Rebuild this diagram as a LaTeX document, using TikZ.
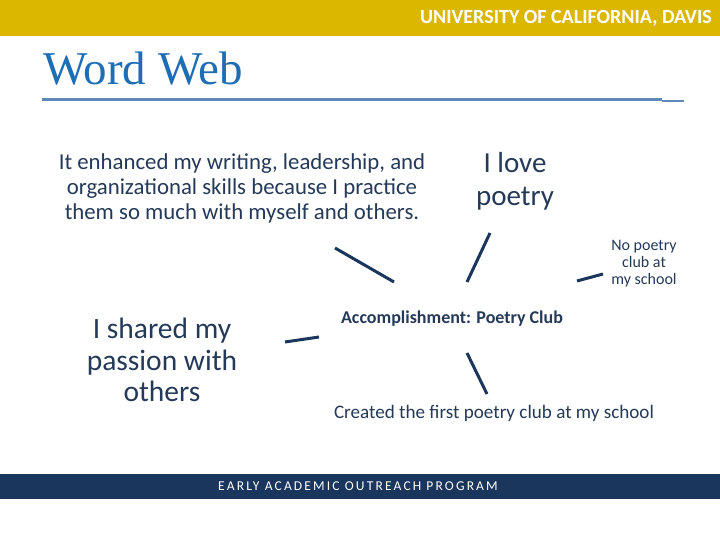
\documentclass[tikz,border=0pt]{standalone}
\usepackage{fontspec}
\setmainfont{Carlito}
\newfontfamily\titlefont{Liberation Serif}
\definecolor{ucgold}{RGB}{220,183,0}
\definecolor{navy}{RGB}{27,54,93}
\definecolor{txt}{RGB}{36,58,88}
\definecolor{titleblue}{RGB}{30,110,180}
\definecolor{rulecol}{RGB}{95,135,185}
\tikzset{
  web/.style={draw=navy, line width=3pt, line cap=butt},
  lbl/.style={text=txt, align=center, inner sep=0pt},
}
\begin{document}
\begin{tikzpicture}[x=1pt,y=-1pt]
\useasboundingbox (0,0) rectangle (720,540);
\fill[white] (0,0) rectangle (720,540);
% top band
\fill[ucgold] (0,0) rectangle (720,36.5);
\node[anchor=east, text=white, inner sep=0pt, font=\fontsize{20}{22}\selectfont\bfseries] (uc) at (712,18.5) {UNIVERSITY OF CALIFORNIA, DAVIS};
% title
\node[anchor=base west, text=titleblue, inner sep=0pt, font=\titlefont\fontsize{47}{52}\selectfont] (title) at (43,85) {Word Web};
\draw[rulecol, line width=3pt] (42,100) -- (662,100);
\draw[rulecol, line width=1.2pt] (662,101) -- (684,101);
% texts
\node[lbl, font=\fontsize{22.8}{25}\selectfont] (enh) at (242,188) {It enhanced my writing, leadership, and\\organizational skills because I practice\\them so much with myself and others.};
\node[lbl, font=\fontsize{29}{33}\selectfont] (love) at (515,181) {I love\\poetry};
\node[lbl, font=\fontsize{16}{17}\selectfont] (nop) at (644,264) {No poetry\\club at\\my school};
\node[lbl, font=\fontsize{29.5}{31.5}\selectfont] (shared) at (162,360) {I shared my\\passion with\\others};
\node[lbl, font=\fontsize{18}{20}\selectfont\bfseries] (acc) at (452,319) {Accomplishment: Poetry Club};
\node[lbl, font=\fontsize{19.1}{22}\selectfont] (created) at (494,413) {Created the first poetry club at my school};
% connectors
\coordinate (a1) at (335,248); \coordinate (a2) at (394,282);
\coordinate (b1) at (490,233); \coordinate (b2) at (467,282);
\coordinate (c1) at (577,281); \coordinate (c2) at (603,274);
\coordinate (d1) at (285,342); \coordinate (d2) at (319,337);
\coordinate (e1) at (467,353); \coordinate (e2) at (487,394);
\draw[web] (a1) -- (a2);
\draw[web] (b1) -- (b2);
\draw[web] (c1) -- (c2);
\draw[web] (d1) -- (d2);
\draw[web] (e1) -- (e2);
% bottom band
\fill[navy] (0,474) rectangle (720,498.5);
\node[anchor=west, text=white, inner sep=0pt, font=\fontsize{13.5}{15}\selectfont\addfontfeatures{LetterSpace=16}] (eaop) at (218,486.5) {EARLY ACADEMIC OUTREACH PROGRAM};
\end{tikzpicture}
\end{document}
